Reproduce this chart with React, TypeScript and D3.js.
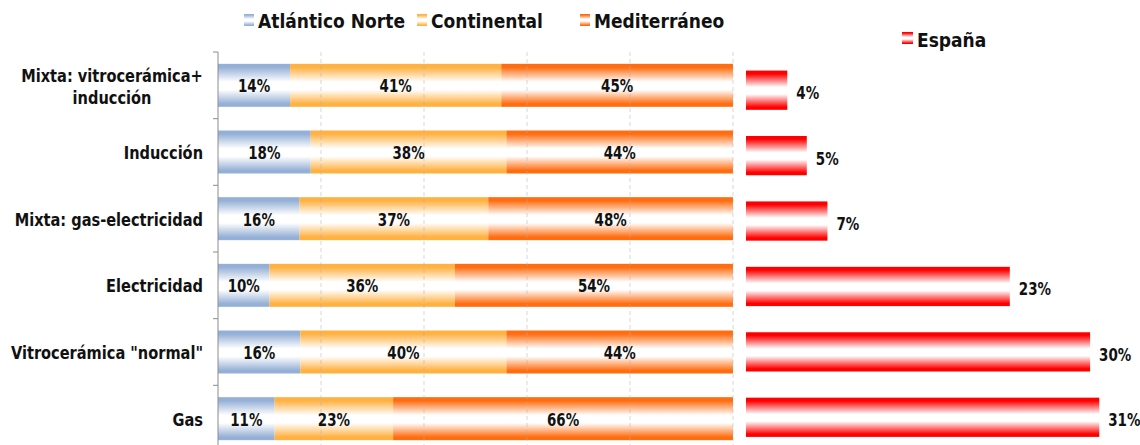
import React from "react";
import * as d3 from "d3";

const categories = [
  "Mixta: vitrocerámica+|inducción",
  "Inducción",
  "Mixta: gas-electricidad",
  "Electricidad",
  "Vitrocerámica \"normal\"",
  "Gas",
];
const seriesNames = ["Atlántico Norte", "Continental", "Mediterráneo"];
const atlantico = [14, 18, 16, 10, 16, 11];
const continental = [41, 38, 37, 36, 40, 23];
const mediterraneo = [45, 44, 48, 54, 44, 66];
const espanaName = "España";
const espana = [3.6, 5.3, 7.1, 23.0, 30.0, 30.8];
const espanaLabels = ["4%", "5%", "7%", "23%", "30%", "31%"];
const gridTicks = [0.2, 0.4, 0.6, 0.8, 1.0];

const W = 1140;
const H = 445;
const FONT = "'DejaVu Sans Condensed', 'DejaVu Sans', sans-serif";
const colors = ["#95b0d6", "#ffb142", "#ff6d10"];
const red = "#ff0000";

function T(props: {
  x: number;
  y: number;
  sx: number;
  size: number;
  anchor?: string;
  children: any;
}) {
  return (
    <text
      transform={`translate(${props.x},${props.y}) scale(${props.sx},1)`}
      textAnchor={props.anchor || "start"}
      fontSize={props.size}
      fontWeight="bold"
      fill="#111"
    >
      {props.children}
    </text>
  );
}

export default function App() {
  const rows = categories.map((c, i) => ({
    cat: c,
    a: atlantico[i],
    c: continental[i],
    m: mediterraneo[i],
  }));
  const keys = ["a", "c", "m"];
  const stack = d3.stack<any>().keys(keys).offset(d3.stackOffsetExpand);
  const stacked = stack(rows);

  const xL = d3.scaleLinear().domain([0, 1]).range([218, 733]);
  const yL = d3.scaleBand().domain(categories).range([52, 452]).paddingInner(0.355).paddingOuter(0.1775);

  const xR = d3.scaleLinear().domain([0, 0.35]).range([746, 746 + 0.35 * 1147]);
  const yR = d3.scaleBand().domain(categories).range([57.5, 450]).paddingInner(0.4).paddingOuter(0.2);

  const bandStep = yL.step();
  const boundaries = d3.range(categories.length + 1).map((i) => 52 + i * bandStep);

  const gradStops = (col: string) => (
    <>
      <stop offset="0" stopColor={col} />
      <stop offset="0.08" stopColor={col} />
      <stop offset="0.42" stopColor="#ffffff" />
      <stop offset="0.6" stopColor="#ffffff" />
      <stop offset="0.93" stopColor={col} />
      <stop offset="1" stopColor={col} />
    </>
  );

  const legendItems = [
    { name: seriesNames[0], x: 244, col: 0 },
    { name: seriesNames[1], x: 417, col: 1 },
    { name: seriesNames[2], x: 580, col: 2 },
  ];

  const DS = 18; // data label size
  const DSX = 0.83;

  return (
    <svg
      width={W}
      height={H}
      style={{ position: "absolute", left: 0, top: 0, background: "#fff" }}
      fontFamily={FONT}
    >
      <defs>
        {colors.map((c, i) => (
          <linearGradient key={i} id={`g${i}`} x1="0" y1="0" x2="0" y2="1">
            {gradStops(c)}
          </linearGradient>
        ))}
        <linearGradient id="gr" x1="0" y1="0" x2="0" y2="1">
          {gradStops(red)}
        </linearGradient>
      </defs>
      <rect x={0} y={0} width={W} height={H} fill="#fff" />

      {/* legend left */}
      {legendItems.map((l, i) => (
        <g key={i}>
          <rect x={l.x} y={14} width={10} height={12} fill={`url(#g${l.col})`} />
          <T x={l.x + 14} y={28} sx={0.95} size={20}>
            {l.name}
          </T>
        </g>
      ))}
      {/* legend right */}
      <rect x={902} y={32} width={11} height={12} fill="url(#gr)" />
      <T x={917} y={47} sx={0.95} size={20}>
        {espanaName}
      </T>

      {/* stacked bars */}
      {stacked.map((s, si) =>
        s.map((d, di) => (
          <rect
            key={`${si}-${di}`}
            x={xL(d[0])}
            y={yL(categories[di])}
            width={xL(d[1]) - xL(d[0])}
            height={yL.bandwidth()}
            fill={`url(#g${si})`}
          />
        ))
      )}
      {/* gridlines */}
      {gridTicks.map((t) => (
        <line
          key={t}
          x1={xL(t)}
          x2={xL(t)}
          y1={52}
          y2={H}
          stroke="#b0b0b0"
          strokeOpacity={0.5}
          strokeDasharray="4,3"
        />
      ))}
      {/* axis */}
      <line x1={218} x2={218} y1={52} y2={H} stroke="#8c8c8c" />
      {boundaries.map((b, i) => (
        <line key={i} x1={213} x2={218} y1={b} y2={b} stroke="#8c8c8c" />
      ))}
      {/* segment labels */}
      {stacked.map((s, si) =>
        s.map((d, di) => {
          const vals = [atlantico, continental, mediterraneo][si];
          return (
            <T
              key={`l${si}-${di}`}
              x={(xL(d[0]) + xL(d[1])) / 2}
              y={(yL(categories[di]) as number) + yL.bandwidth() / 2 + 7}
              sx={DSX}
              size={DS}
              anchor="middle"
            >
              {vals[di]}%
            </T>
          );
        })
      )}
      {/* category labels */}
      {categories.map((c, i) => {
        const lines = c.split("|");
        const cy = (yL(c) as number) + yL.bandwidth() / 2;
        if (lines.length === 1) {
          return (
            <T key={c} x={203} y={cy + 7} sx={0.9} size={18} anchor="end">
              {c}
            </T>
          );
        }
        return (
          <g key={c}>
            {lines.map((ln, j) => (
              <T key={j} x={112} y={cy - 3 + j * 22} sx={0.9} size={18} anchor="middle">
                {ln}
              </T>
            ))}
          </g>
        );
      })}

      {/* España bars */}
      {espana.map((v, i) => (
        <g key={i}>
          <rect
            x={xR(0)}
            y={yR(categories[i])}
            width={xR(v / 100) - xR(0)}
            height={yR.bandwidth()}
            fill="url(#gr)"
          />
          <T
            x={xR(v / 100) + 9}
            y={(yR(categories[i]) as number) + yR.bandwidth() / 2 + 9}
            sx={DSX}
            size={DS}
          >
            {espanaLabels[i]}
          </T>
        </g>
      ))}
    </svg>
  );
}
